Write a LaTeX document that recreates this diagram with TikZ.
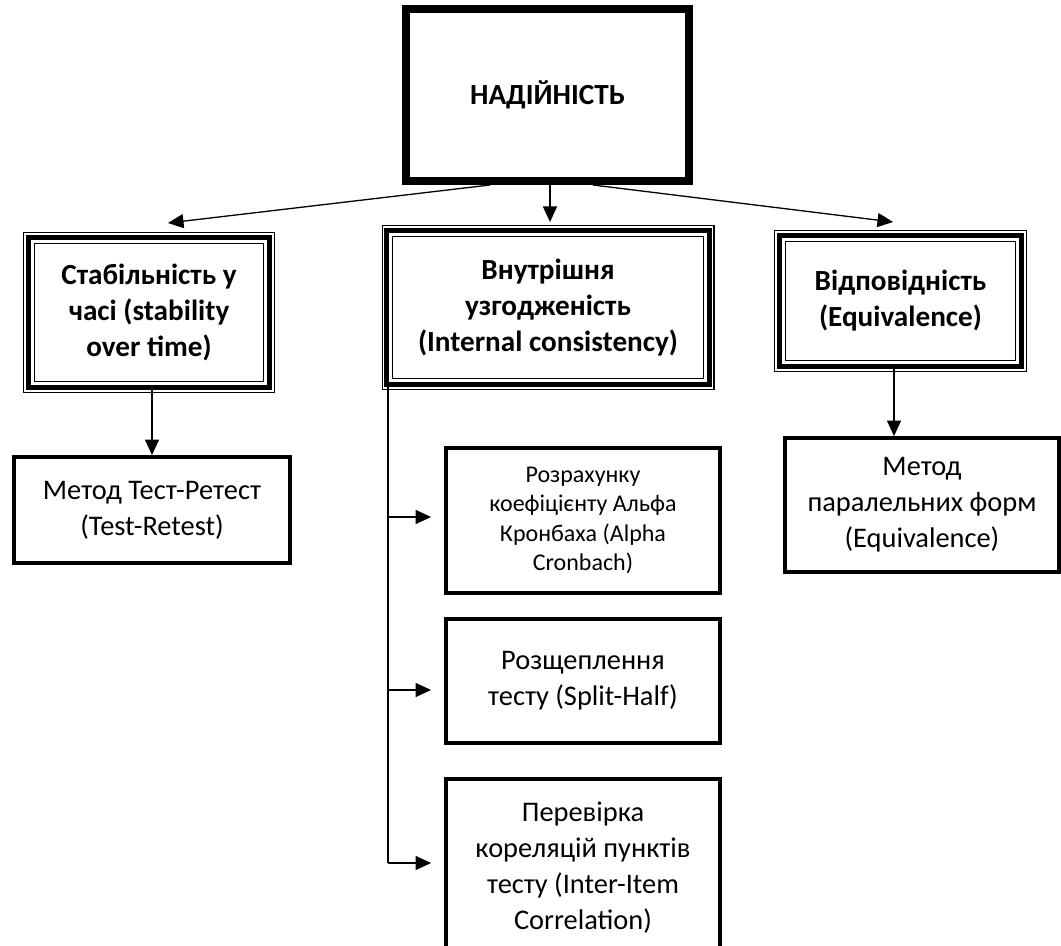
\documentclass[tikz,border=0pt]{standalone}
\usepackage{fontspec}
\setmainfont{Carlito}
\usetikzlibrary{arrows.meta,calc}
\begin{document}
\begin{tikzpicture}[x=0.5pt,y=-0.5pt,
  bigtxt/.style={font=\fontsize{14.6pt}{18pt}\selectfont\bfseries, align=center},
  regtxt/.style={font=\fontsize{14.2pt}{18pt}\selectfont, align=center},
  smalltxt/.style={font=\fontsize{12pt}{14.65pt}\selectfont, align=center},
  plainbox/.style={draw, line width=1.9pt, inner sep=0pt},
  tribox/.style={draw, line width=2.5pt, inner sep=0pt, outer sep=0pt},
  arr/.style={line width=0.65pt, -{Triangle[length=7.75pt,width=7pt]}},
  link/.style={line width=0.65pt}]

\useasboundingbox (0,0) rectangle (1061,946);
\fill[white] (0,0) rectangle (1061,946);
\clip (0,0) rectangle (1061,946);

% top box
\node[draw, line width=4pt, inner sep=0pt, minimum width=141.5pt, minimum height=86pt, bigtxt] (top) at (547.5,95) {НАДІЙНІСТЬ};

% triple-line boxes
\node[tribox, bigtxt, minimum width=120.8pt, minimum height=75.3pt] (stab) at (149,312.5) {Стабільність у\\часі (stability\\over time)};
\node[tribox, bigtxt, minimum width=161.3pt, minimum height=77.3pt] (intc) at (548,307.5) {Внутрішня\\узгодженість\\(Internal consistency)};
\node[tribox, bigtxt, minimum width=121.3pt, minimum height=65.8pt] (equi) at (900.5,301) {Відповідність\\(Equivalence)};

\foreach \n in {stab,intc,equi} {
  \draw[line width=0.6pt] ([shift={(-4.6,-4.6)}]\n.north west) rectangle ([shift={(4.6,4.6)}]\n.south east);
  \draw[line width=0.65pt] ([shift={(6.1,6.1)}]\n.north west) rectangle ([shift={(-6.1,-6.1)}]\n.south east);
}

% plain boxes
\node[plainbox, regtxt, minimum width=138pt, minimum height=53pt] (tr) at (152,510) {Метод Тест-Ретест\\(Test-Retest)};
\node[plainbox, regtxt, minimum width=137pt, minimum height=67pt] (pf) at (922,505) {Метод\\паралельних форм\\(Equivalence)};
\node[plainbox, smalltxt, minimum width=137pt, minimum height=72.5pt] (alpha) at (583,520.5) {\raisebox{-3.5pt}{\begin{tabular}{@{}c@{}}Розрахунку\\коефіцієнту Альфа\\Кронбаха (Alpha\\Cronbach)\end{tabular}}};
\node[plainbox, regtxt, minimum width=137pt, minimum height=62pt] (split) at (583,681) {Розщеплення\\тесту (Split-Half)};
\node[plainbox, regtxt, minimum width=137pt, minimum height=88.5pt] (inter) at (583,867.5) {Перевірка\\кореляцій пунктів\\тесту (Inter-Item\\Correlation)};

% connectors from the top box
\coordinate (tl) at (168,223);
\coordinate (tc) at (550,222);
\coordinate (trt) at (893,222);
\draw[arr] ([xshift=-28.75pt]top.south) -- (tl);
\draw[arr] (top.south -| tc) -- (tc);
\draw[arr] ([xshift=22.75pt]top.south) -- (trt);

% down arrows
\draw[arr] (stab.south -| tr.north) -- (tr.north);
\draw[arr] ([xshift=-3.25pt]equi.south) -- ([xshift=-3.25pt]equi.south |- pf.north);

% internal consistency branch
\coordinate (b1) at (388,517);
\coordinate (b2) at (388,690);
\coordinate (b3) at (388,863);
\draw[link] (intc.south -| b1) -- (b3);
\draw[arr] (b1) -- ($(alpha.west |- b1)+(-13,0)$);
\draw[arr] (b2) -- ($(split.west |- b2)+(-13,0)$);
\draw[arr] (b3) -- ($(inter.west |- b3)+(-13,0)$);
\end{tikzpicture}
\end{document}
